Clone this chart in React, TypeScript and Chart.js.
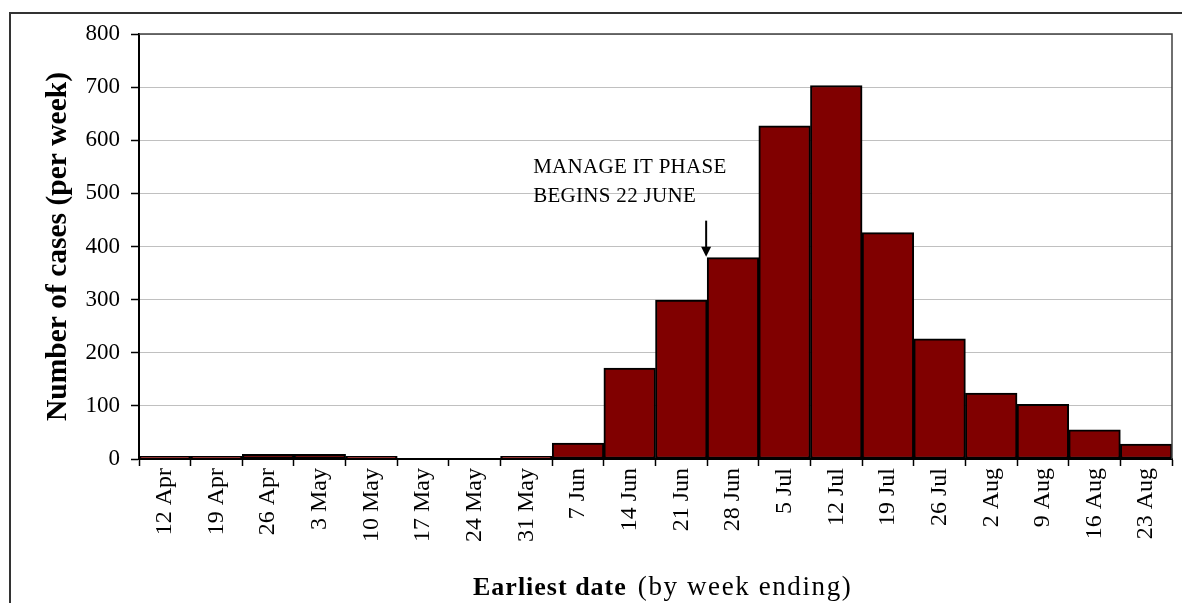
import React, { useEffect, useRef } from "react";
import { Chart, registerables } from "chart.js";

Chart.register(...registerables);

const weekEnding = [
  "12 Apr", "19 Apr", "26 Apr", "3 May", "10 May", "17 May", "24 May", "31 May",
  "7 Jun", "14 Jun", "21 Jun", "28 Jun", "5 Jul", "12 Jul", "19 Jul", "26 Jul",
  "2 Aug", "9 Aug", "16 Aug", "23 Aug",
];
const casesPerWeek = [5, 5, 9, 9, 5, 0, 0, 5, 30, 171, 299, 379, 627, 703, 426, 226, 124, 103, 55, 28];
const yMin = 0;
const yMax = 800;
const yStep = 100;

const yTitle = "Number of cases (per week)";
const xTitleBold = "Earliest date";
const xTitleNormal = "(by week ending)";
const noteLines = ["MANAGE IT PHASE", "BEGINS 22 JUNE"];
const noteIndexBefore = 10; // arrow between 21 Jun and 28 Jun
const noteIndexAfter = 11;

const SERIF = '"Liberation Serif", "Times New Roman", serif';

const decorPlugin = {
  id: "decor",
  beforeDraw(chart: any) {
    const ctx = chart.ctx;
    ctx.save();
    ctx.fillStyle = "#ffffff";
    ctx.fillRect(0, 0, chart.width, chart.height);
    ctx.restore();
  },
  afterDraw(chart: any) {
    const ctx = chart.ctx;
    const area = chart.chartArea;
    const xs = chart.scales.x;
    const ys = chart.scales.y;
    ctx.save();

    // outer frame
    ctx.strokeStyle = "#333333";
    ctx.lineWidth = 2;
    ctx.beginPath();
    ctx.moveTo(10, chart.height + 2);
    ctx.lineTo(10, 13);
    ctx.lineTo(chart.width + 2, 13);
    ctx.stroke();

    // plot area top / right border
    ctx.strokeStyle = "#404040";
    ctx.lineWidth = 1.5;
    ctx.beginPath();
    ctx.moveTo(area.left, area.top);
    ctx.lineTo(area.right, area.top);
    ctx.lineTo(area.right, area.bottom);
    ctx.stroke();

    // y title
    ctx.fillStyle = "#000";
    ctx.font = `bold 29.5px ${SERIF}`;
    ctx.textAlign = "center";
    ctx.textBaseline = "middle";
    ctx.translate(58, (area.top + area.bottom) / 2);
    ctx.rotate(-Math.PI / 2);
    ctx.fillText(yTitle, 0, 0);
    ctx.setTransform(1, 0, 0, 1, 0, 0);

    // x title (mixed weights)
    ctx.textBaseline = "alphabetic";
    ctx.textAlign = "left";
    const base = 595;
    const x0 = 473;
    ctx.font = `bold 26px ${SERIF}`;
    (ctx as any).letterSpacing = "1px";
    const wB = ctx.measureText(xTitleBold).width;
    ctx.fillText(xTitleBold, x0, base);
    ctx.font = `27px ${SERIF}`;
    (ctx as any).letterSpacing = "1.6px";
    ctx.fillText(xTitleNormal, x0 + wB + 11, base);
    (ctx as any).letterSpacing = "0px";

    // annotation arrow
    const ax = (xs.getPixelForValue(noteIndexBefore) + xs.getPixelForValue(noteIndexAfter)) / 2 - 1;
    const tipY = ys.getPixelForValue(casesPerWeek[noteIndexAfter]) - 1;
    ctx.strokeStyle = "#000";
    ctx.fillStyle = "#000";
    ctx.lineWidth = 2;
    ctx.beginPath();
    ctx.moveTo(ax, tipY - 36);
    ctx.lineTo(ax, tipY - 8);
    ctx.stroke();
    ctx.beginPath();
    ctx.moveTo(ax - 5, tipY - 10);
    ctx.lineTo(ax + 5, tipY - 10);
    ctx.lineTo(ax, tipY);
    ctx.closePath();
    ctx.fill();

    // annotation text
    ctx.font = `21px ${SERIF}`;
    (ctx as any).letterSpacing = "0.3px";
    ctx.textAlign = "left";
    ctx.textBaseline = "alphabetic";
    const tx = ax - 173;
    ctx.fillText(noteLines[0], tx, 173);
    ctx.fillText(noteLines[1], tx, 202);
    (ctx as any).letterSpacing = "0px";

    ctx.restore();
  },
};

export default function App() {
  const ref = useRef<HTMLCanvasElement | null>(null);

  useEffect(() => {
    if (!ref.current) return;
    const chart = new Chart(ref.current, {
      type: "bar",
      data: {
        labels: weekEnding,
        datasets: [
          {
            data: casesPerWeek,
            backgroundColor: "#800000",
            borderColor: "#000000",
            borderWidth: 2,
            borderSkipped: false,
            barPercentage: 1,
            categoryPercentage: 1,
          },
        ],
      },
      options: {
        responsive: false,
        animation: false,
        devicePixelRatio: 1,
        layout: { padding: { top: 34, right: 10, left: 0, bottom: 0 } },
        plugins: {
          legend: { display: false },
          tooltip: { enabled: false },
          title: { display: false },
        },
        scales: {
          x: {
            type: "category",
            offset: true,
            grid: {
              display: true,
              drawOnChartArea: false,
              offset: true,
              tickLength: 7,
              tickColor: "#000",
              tickWidth: 1.5,
            },
            border: { display: true, color: "#000", width: 2 },
            ticks: {
              color: "#000",
              font: { family: SERIF, size: 24 },
              minRotation: 90,
              maxRotation: 90,
              padding: 2,
              autoSkip: false,
            },
            afterFit: (scale: any) => {
              scale.height = 603 - 459;
            },
          },
          y: {
            min: yMin,
            max: yMax,
            grid: {
              color: "#c0c0c0",
              lineWidth: 1,
              tickLength: 8,
              tickColor: "#000",
              tickWidth: 1.5,
            },
            border: { display: true, color: "#000", width: 2 },
            ticks: {
              stepSize: yStep,
              color: "#000",
              font: { family: SERIF, size: 23 },
              padding: 11,
            },
            afterFit: (scale: any) => {
              scale.width = 139;
            },
          },
        },
      },
      plugins: [decorPlugin],
    });
    return () => chart.destroy();
  }, []);

  return (
    <div style={{ position: "fixed", left: 0, top: 0, width: 1182, height: 603, background: "#fff" }}>
      <canvas ref={ref} width={1182} height={603} style={{ display: "block" }} />
    </div>
  );
}
